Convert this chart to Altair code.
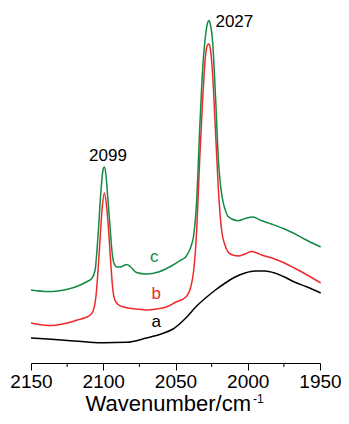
import altair as alt
import pandas as pd

PX0, PX1 = 33.0, 326.0  # only used to convert read-off pixel positions to wavenumbers
def wn(px):
    return round(2150 - (px - PX0) * 200 / (PX1 - PX0), 2)
def ab(py):
    return round((363 - py) / 100, 3)

# read-off points (pixel x, pixel y) -> converted to wavenumber / absorbance
a_px = [33, 50, 70, 90, 107, 130, 150, 165, 177, 190, 200, 210, 220, 230, 240, 250, 260, 270, 280, 290, 300, 313, 326.7]
a_py = [338, 339, 340.5, 342, 342.7, 342.3, 338, 334, 329, 318, 307, 298, 290, 283, 277, 273, 271, 271, 273, 277, 282, 287, 293]

b_px = [33, 45, 55, 70, 80, 87, 93, 96, 99, 102, 105, 107.3, 109.5, 112, 114, 116, 118, 122, 127, 140, 150, 160, 170, 180, 190, 195, 198, 201, 204, 207, 210, 212, 213.5, 215, 217, 220, 223, 226, 230, 235, 243, 250, 256.7, 262, 267, 280, 290, 300, 313, 326.7]
b_py = [323, 325, 325.5, 323, 320, 318, 315, 311, 295, 255, 210, 193, 205, 235, 265, 290, 300, 305, 307, 309, 310, 309, 307, 302, 297, 287, 270, 230, 160, 100, 55, 45, 44, 50, 72, 130, 190, 228, 246, 254, 256, 254, 251.5, 253, 255, 259, 263, 268, 275, 283]

c_px = [33, 50, 60, 70, 83, 90, 95, 98, 101, 104, 106, 107.3, 109, 111, 113, 115, 117, 120, 124, 127, 130, 134, 140, 150, 163, 177, 185, 190, 195, 198, 201, 204, 207, 210, 212, 213.5, 215, 217, 220, 223, 226.7, 230, 233, 243, 250, 258.3, 265, 276.7, 290, 296.7, 310, 326.7]
c_py = [290, 291.5, 291, 289.3, 285, 281.5, 278, 270, 235, 190, 170, 167, 175, 200, 225, 250, 263, 267, 267, 265.5, 264.5, 267, 272.5, 274, 271.7, 265, 260, 256.7, 247, 235, 200, 130, 70, 35, 23, 20.5, 25, 40, 95, 160, 196.7, 210, 216.7, 220.7, 218.5, 217, 220, 224, 229, 232, 239, 247]

series_names = ["a", "b", "c"]
series_colors = ["#000000", "#F0282A", "#138A45"]

rows = []
for name, pxs, pys in [("a", a_px, a_py), ("b", b_px, b_py), ("c", c_px, c_py)]:
    for i, (px, py) in enumerate(zip(pxs, pys)):
        rows.append({"series": name, "order": i, "wn": wn(px), "abs": ab(py)})
df = pd.DataFrame(rows)

label_text = ["2027", "2099", "c", "b", "a"]
label_wn = [wn(220), wn(111), wn(158), wn(160), wn(160)]
label_abs = [ab(22), ab(156), ab(257), ab(294), ab(322)]
label_color = ["#000000", "#000000", "#138A45", "#F0282A", "#000000"]
label_align = ["left", "center", "center", "center", "center"]
labels = pd.DataFrame({"t": label_text, "wn": label_wn, "abs": label_abs,
                       "col": label_color, "al": label_align})

major_ticks = [2150, 2100, 2050, 2000, 1950]
minor_ticks = [2125, 2075, 2025, 1975]
x_title = "Wavenumber/cm"
x_title_sup = "-1"

FONT = "Liberation Sans"
xscale = alt.Scale(domain=[2150, 1950], nice=False, zero=False)
yscale = alt.Scale(domain=[0, 3.5], nice=False, zero=False)

lines = alt.Chart(df).mark_line(strokeWidth=1.5, interpolate="monotone").encode(
    x=alt.X("wn:Q", scale=xscale,
            axis=alt.Axis(values=major_ticks, title=None, grid=False,
                          tickSize=7, tickColor="black", domainColor="black",
                          labelFontSize=19, labelColor="black", labelFont=FONT,
                          labelPadding=2, format="d", labelFlush=False)),
    y=alt.Y("abs:Q", scale=yscale, axis=None),
    color=alt.Color("series:N", scale=alt.Scale(domain=series_names, range=series_colors), legend=None),
    order="order:Q",
)

minor = alt.Chart(pd.DataFrame({"wn": minor_ticks})).mark_rule(color="black", strokeWidth=1).encode(
    x=alt.X("wn:Q", scale=xscale),
    y=alt.value(350),
    y2=alt.value(354),
)

text_left = alt.Chart(labels[labels.al == "left"]).mark_text(
    align="left", baseline="middle", fontSize=17, font=FONT).encode(
    x=alt.X("wn:Q", scale=xscale), y=alt.Y("abs:Q", scale=yscale),
    text="t:N", color=alt.Color("col:N", scale=None))
text_center = alt.Chart(labels[labels.al == "center"]).mark_text(
    align="center", baseline="middle", fontSize=17, font=FONT).encode(
    x=alt.X("wn:Q", scale=xscale), y=alt.Y("abs:Q", scale=yscale),
    text="t:N", color=alt.Color("col:N", scale=None))

title_main = alt.Chart(pd.DataFrame({"t": [x_title]})).mark_text(
    align="right", baseline="alphabetic", fontSize=22, font=FONT, color="black").encode(
    x=alt.value(220), y=alt.value(398), text="t:N")
title_sup = alt.Chart(pd.DataFrame({"t": [x_title_sup]})).mark_text(
    align="left", baseline="alphabetic", fontSize=12, font=FONT, color="black").encode(
    x=alt.value(222), y=alt.value(390), text="t:N")

chart = alt.layer(lines, minor, text_left, text_center, title_main, title_sup).properties(
    width=289, height=350,
    autosize=alt.AutoSizeParams(type="none"),
    padding={"left": 23, "top": 5, "right": 21, "bottom": 53},
).configure_view(stroke=None)

chart.save("out.html", embed_options={"renderer": "svg", "actions": False})
